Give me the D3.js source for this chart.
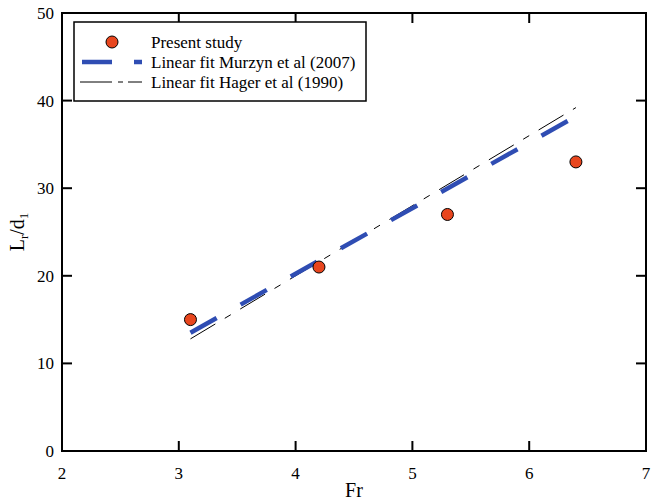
<!DOCTYPE html>
<html><head><meta charset="utf-8">
<script src="https://cdn.jsdelivr.net/npm/d3@7"></script>
<style>body{margin:0;background:#fff}svg{display:block}text{font-family:"Liberation Serif","Times New Roman",serif;fill:#000}</style>
</head><body>
<script>
const frStudy = [3.1, 4.2, 5.3, 6.4];
const lrStudy = [15, 21, 27, 33];
const fitFr = [3.1, 6.4];
const murzynLr = [13.5, 38.2];
const hagerLr = [12.8, 39.2];
const xTicks = [2, 3, 4, 5, 6, 7];
const yTicks = [0, 10, 20, 30, 40, 50];
const legendLabels = ["Present study", "Linear fit Murzyn et al (2007)", "Linear fit Hager et al (1990)"];

const W = 654, H = 501;
const m = {l: 62, r: 8, t: 13, b: 50};
const svg = d3.select("body").append("svg").attr("width", W).attr("height", H);
const x = d3.scaleLinear().domain([2, 7]).range([m.l, W - m.r]);
const y = d3.scaleLinear().domain([0, 50]).range([H - m.b, m.t]);

// frame
svg.append("rect").attr("x", x(2)).attr("y", y(50)).attr("width", x(7) - x(2)).attr("height", y(0) - y(50))
  .attr("fill", "none").attr("stroke", "#000").attr("stroke-width", 2);

const tl = 10;
const g = svg.append("g").attr("stroke", "#000").attr("stroke-width", 2);
xTicks.slice(1, -1).forEach(t => {
  g.append("line").attr("x1", x(t)).attr("x2", x(t)).attr("y1", y(0)).attr("y2", y(0) - tl);
  g.append("line").attr("x1", x(t)).attr("x2", x(t)).attr("y1", y(50)).attr("y2", y(50) + tl);
});
yTicks.slice(1, -1).forEach(t => {
  g.append("line").attr("x1", x(2)).attr("x2", x(2) + tl).attr("y1", y(t)).attr("y2", y(t));
  g.append("line").attr("x1", x(7)).attr("x2", x(7) - tl).attr("y1", y(t)).attr("y2", y(t));
});

xTicks.forEach(t => svg.append("text").attr("x", x(t)).attr("y", y(0) + 28).attr("text-anchor", "middle")
  .attr("font-size", 17).text(t));
yTicks.forEach(t => svg.append("text").attr("x", x(2) - 8).attr("y", y(t) + 6).attr("text-anchor", "end")
  .attr("font-size", 17).text(t));

svg.append("text").attr("x", (x(2) + x(7)) / 2).attr("y", 497).attr("text-anchor", "middle").attr("font-size", 20).text("Fr");
const yl = svg.append("text").attr("transform", `translate(24,${(y(0) + y(50)) / 2}) rotate(-90)`).attr("text-anchor", "middle").attr("font-size", 20);
yl.append("tspan").text("L");
yl.append("tspan").attr("font-size", 13).attr("dy", 4).text("r");
yl.append("tspan").attr("dy", -4).text("/d");
yl.append("tspan").attr("font-size", 13).attr("dy", 4).text("1");

const line = d3.line().x(d => x(d[0])).y(d => y(d[1]));
svg.append("path").datum(fitFr.map((f, i) => [f, hagerLr[i]])).attr("d", line)
  .attr("fill", "none").attr("stroke", "#000").attr("stroke-width", 1).attr("stroke-dasharray", "29,11,7,11");
svg.append("path").datum(fitFr.map((f, i) => [f, murzynLr[i]])).attr("d", line)
  .attr("fill", "none").attr("stroke", "#2f4db3").attr("stroke-width", 4.5).attr("stroke-dasharray", "30,27.5");

svg.selectAll("circle.pt").data(frStudy.map((f, i) => [f, lrStudy[i]])).join("circle").attr("class", "pt")
  .attr("cx", d => x(d[0])).attr("cy", d => y(d[1])).attr("r", 6)
  .attr("fill", "#e8461e").attr("stroke", "#000").attr("stroke-width", 1);

// legend
svg.append("rect").attr("x", 74).attr("y", 22).attr("width", 292).attr("height", 79)
  .attr("fill", "#fff").attr("stroke", "#000").attr("stroke-width", 1.5);
svg.append("circle").attr("cx", 112).attr("cy", 42).attr("r", 6).attr("fill", "#e8461e").attr("stroke", "#000");
svg.append("line").attr("x1", 82).attr("x2", 142).attr("y1", 62).attr("y2", 62)
  .attr("stroke", "#2f4db3").attr("stroke-width", 4.5).attr("stroke-dasharray", "30,22");
svg.append("line").attr("x1", 80).attr("x2", 142).attr("y1", 82).attr("y2", 82)
  .attr("stroke", "#000").attr("stroke-width", 1).attr("stroke-dasharray", "32,6,5,5");
legendLabels.forEach((s, i) => svg.append("text").attr("x", 151).attr("y", 48 + i * 20).attr("font-size", 17).text(s));
</script>
</body></html>
